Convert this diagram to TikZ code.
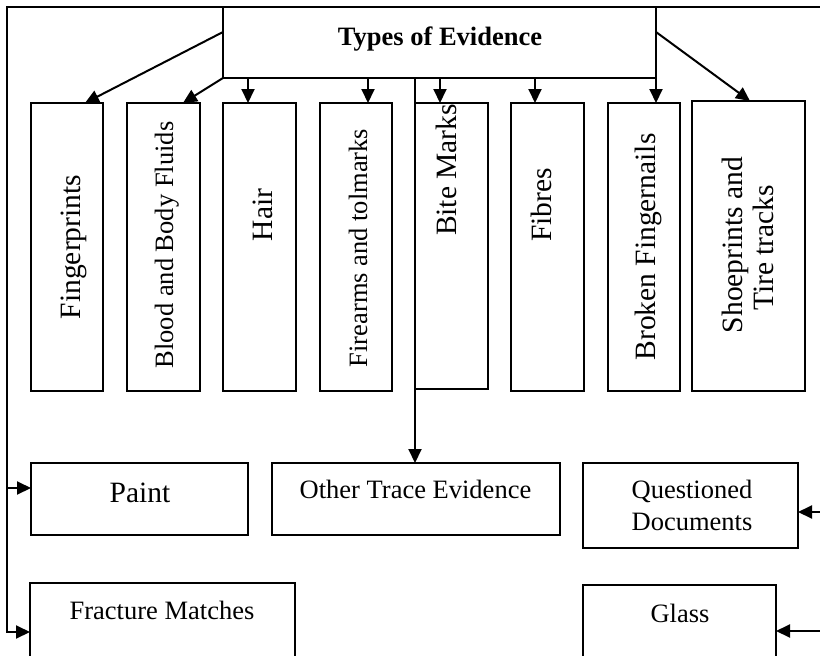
\documentclass[tikz,border=0pt]{standalone}
\usepackage{fontspec}
\setmainfont{Liberation Serif}
\usetikzlibrary{arrows.meta,calc}
\newcommand\fsA{\fontsize{26.5}{31}\selectfont}
\newcommand\fsB{\fontsize{29.5}{34}\selectfont}
\begin{document}
\begin{tikzpicture}[x=1pt,y=-1pt,
  box/.style={draw,line width=2pt,inner sep=0pt,outer sep=0pt,anchor=north west},
  txt/.style={inner sep=0pt,anchor=base},
  vt/.style={txt,rotate=90},
  ln/.style={line width=2pt},
  arr/.style={line width=2pt,-{Triangle[length=14pt,width=13pt]}}]
\clip (0,0) rectangle (820,656);
\fill[white] (0,0) rectangle (820,656);
% boxes
\node[box,minimum width=433pt,minimum height=71pt] (top) at (223,7) {};
\node[box,minimum width=72pt,minimum height=288pt] (fp) at (31,103) {};
\node[box,minimum width=73pt,minimum height=288pt] (bl) at (127,103) {};
\node[box,minimum width=73pt,minimum height=288pt] (ha) at (223,103) {};
\node[box,minimum width=72pt,minimum height=288pt] (fa) at (320,103) {};
\node[box,minimum width=73pt,minimum height=286pt] (bm) at (415,103) {};
\node[box,minimum width=73pt,minimum height=288pt] (fb) at (511,103) {};
\node[box,minimum width=72pt,minimum height=288pt] (bf) at (608,103) {};
\node[box,minimum width=113pt,minimum height=290pt] (sp) at (692,101) {};
\node[box,minimum width=217pt,minimum height=72pt] (paint) at (31,463) {};
\node[box,minimum width=288pt,minimum height=72pt] (other) at (272,463) {};
\node[box,minimum width=215pt,minimum height=85pt] (qd) at (583,463) {};
\node[box,minimum width=265pt,minimum height=120pt] (frac) at (30,583) {};
\node[box,minimum width=193pt,minimum height=120pt] (glass) at (583,585) {};
% texts
\node[txt,font=\fsA\bfseries] (t0) at (440,45) {Types of Evidence};
\node[vt,font=\fsB] (t1) at (80,247) {Fingerprints};
\node[vt,font=\fsA] (t2) at (173,245) {Blood and Body Fluids};
\node[vt,font=\fsB] (t3) at (272,215) {Hair};
\node[vt,font=\fsA] (t4) at (367,248) {Firearms and tolmarks};
\node[vt,font=\fsB] (t5) at (456,170) {Bite Marks};
\node[vt,font=\fsB] (t6) at (551,205) {Fibres};
\node[vt,font=\fsB] (t7) at (655,247) {Broken Fingernails};
\node[vt,font=\fsB] (t8a) at (742,245) {Shoeprints and};
\node[vt,font=\fsB] (t8b) at (773,248) {Tire tracks};
\node[txt,font=\fsB] (t9) at (140,502) {Paint};
\node[txt,font=\fsA] (t10) at (415.5,498) {Other Trace Evidence};
\node[txt,font=\fsA] (t11a) at (692,498) {Questioned};
\node[txt,font=\fsA] (t11b) at (692,530) {Documents};
\node[txt,font=\fsA] (t12) at (162,619) {Fracture Matches};
\node[txt,font=\fsA] (t13) at (680,622) {Glass};
% coordinates
\coordinate (L) at (7,7);
\coordinate (R) at (822,7);
\coordinate (hx) at ($(ha.north west)+(25,0)$);
\coordinate (fx) at ($(fa.north west)+(48,0)$);
\coordinate (bx) at ($(bm.north west)+(25,0)$);
\coordinate (ix) at ($(fb.north west)+(24,0)$);
\coordinate (ox) at ($(other.north west)+(143,0)$);
\coordinate (pw) at ($(paint.north west)+(0,25)$);
\coordinate (fw) at ($(frac.north west)+(0,49)$);
\coordinate (qe) at ($(qd.north east)+(0,49)$);
\coordinate (ge) at ($(glass.north east)+(0,46)$);
% connectors
\draw[arr] (R) -- (L) -- (L |- fw) -- (fw);
\draw[arr] (L |- pw) -- (pw);
\draw[arr] (R |- qe) -- (qe);
\draw[arr] (R |- ge) -- (ge);
\draw[arr] ($(top.north west)+(0,25)$) -- ($(fp.north west)+(54,0)$);
\draw[arr] (top.south west) -- ($(bl.north west)+(56,0)$);
\draw[arr] (hx |- top.south) -- (hx);
\draw[arr] (fx |- top.south) -- (fx);
\draw[arr] (bx |- top.south) -- (bx);
\draw[arr] (ix |- top.south) -- (ix);
\draw[arr] (ox |- top.south) -- (ox);
\draw[arr] (top.south east) -- (top.south east |- bf.north);
\draw[arr] ($(top.north east)+(0,25)$) -- ($(sp.north west)+(58,0)$);
\end{tikzpicture}
\end{document}
